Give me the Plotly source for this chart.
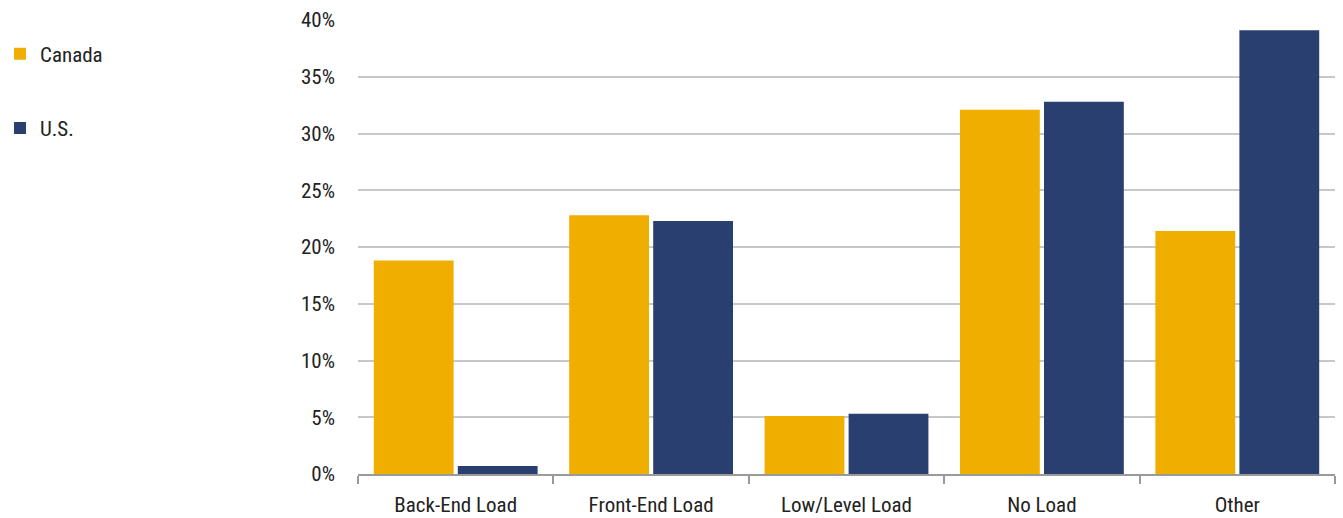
import plotly.graph_objects as go

categories = ["Back-End Load", "Front-End Load", "Low/Level Load", "No Load", "Other"]
canada = [18.8, 22.8, 5.1, 32.1, 21.4]
us = [0.7, 22.3, 5.3, 32.8, 39.1]
y_ticks = [0, 5, 10, 15, 20, 25, 30, 35, 40]
y_tick_labels = [f"{v}%" for v in y_ticks]

FONT = "Liberation Sans Narrow, Roboto Condensed, Arial Narrow, sans-serif"

fig = go.Figure()
fig.add_trace(go.Bar(name="Canada", x=categories, y=canada, marker_color="#F0AE00",
                     marker_line_width=0, legendgroup="ca"))
fig.add_trace(go.Bar(name="U.S.", x=categories, y=us, marker_color="#293F6F",
                     marker_line_width=0, legendgroup="us"))

fig.update_layout(
    width=1343, height=518,
    margin=dict(l=358, r=8, t=20, b=44, autoexpand=False),
    paper_bgcolor="white", plot_bgcolor="white",
    barmode="group", bargap=0.14, bargroupgap=0.05,
    font=dict(family=FONT, size=21, color="#222222"),
    legend=dict(xref="container", yref="container", x=0, y=0.935,
                xanchor="left", yanchor="top", tracegroupgap=44,
                font=dict(size=21), itemwidth=30, bgcolor="rgba(0,0,0,0)"),
    xaxis=dict(showline=True, linecolor="#9a9a9a", linewidth=2, automargin=False,
               ticks="outside", tickson="boundaries", ticklen=8, tickcolor="#9a9a9a",
               tickwidth=2, showgrid=False, tickfont=dict(size=21), ticklabelstandoff=11),
    yaxis=dict(range=[0, 40], tickvals=y_ticks, ticktext=y_tick_labels, automargin=False,
               showgrid=True, gridcolor="#c8c8c8", gridwidth=2, zeroline=False,
               ticks="", ticklabelstandoff=22, tickfont=dict(size=21)),
)

fig.write_html("out.html")
